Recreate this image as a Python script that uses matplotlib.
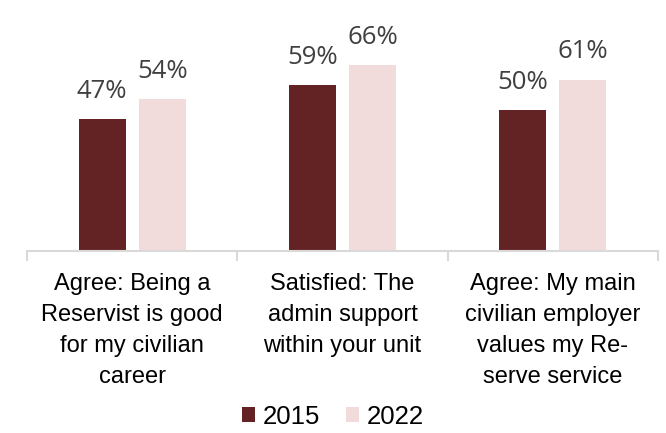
import numpy as np
import matplotlib.pyplot as plt

# survey items and results (%)
categories = ["Agree: Being a\nReservist is good\nfor my civilian\ncareer",
              "Satisfied: The\nadmin support\nwithin your unit",
              "Agree: My main\ncivilian employer\nvalues my Re-\nserve service"]
years = ["2015", "2022"]
vals_2015 = [47, 59, 50]
vals_2022 = [54, 66, 61]

col_2015 = "#632324"
col_2022 = "#F2DCDB"

fig = plt.figure(figsize=(6.66, 4.33), dpi=100)
ax = fig.add_axes([27/666, 182/433, 631/666, 251/433])

x = np.arange(len(categories))
w = 0.224
off = 0.143
b1 = ax.bar(x - off, vals_2015, w, color=col_2015, label=years[0])
b2 = ax.bar(x + off, vals_2022, w, color=col_2022, label=years[1])

for bars, vals in [(b1, vals_2015), (b2, vals_2022)]:
    for r, v in zip(bars, vals):
        ax.annotate(f"{v}%", (r.get_x() + r.get_width() / 2, v),
                    xytext=(0, 11), textcoords="offset points",
                    ha="center", va="bottom", fontsize=18.5,
                    color="#404040", family="Open Sans")

ax.set_xlim(-0.5, 2.5)
ax.set_ylim(0, 89.3)
ax.set_yticks([])
for s in ["top", "left", "right"]:
    ax.spines[s].set_visible(False)
ax.spines["bottom"].set_color("#D9D9D9")
ax.spines["bottom"].set_linewidth(1.5)

# tick marks at the group boundaries, labels at the centres
ax.set_xticks([-0.5, 0.5, 1.5, 2.5], minor=True)
ax.tick_params(axis="x", which="minor", length=7, width=1.5, color="#D9D9D9")
ax.set_xticks(x)
ax.set_xticklabels(categories, fontsize=17, family="Liberation Sans",
                   linespacing=1.52)
ax.tick_params(axis="x", which="major", length=0, pad=16)

fig.legend(handles=[b1, b2], loc="lower center", bbox_to_anchor=(0.5, -0.008),
           ncol=2, frameon=False, handlelength=0.5, handleheight=0.5,
           handletextpad=0.3, columnspacing=1.0, borderaxespad=0.1,
           borderpad=0.2,
           prop={"family": "Liberation Sans", "size": 18.5})

fig.savefig("out.png", dpi=100)
